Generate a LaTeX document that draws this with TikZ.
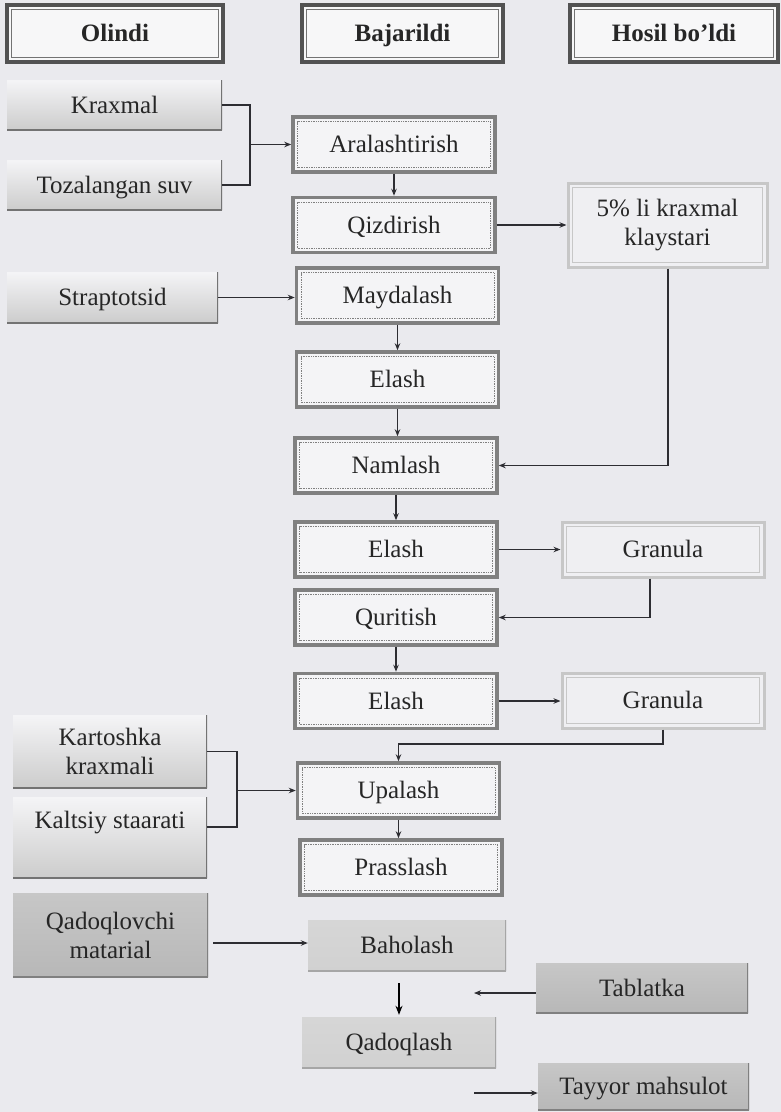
\documentclass[tikz,border=0pt]{standalone}
\usepackage{fontspec}
\setmainfont{Liberation Serif}
\usetikzlibrary{arrows.meta,calc}
\definecolor{bg}{RGB}{234,234,238}
\definecolor{ln}{RGB}{45,45,50}
\tikzset{
  base/.style={rectangle, inner sep=0pt, align=center, text=black!85,
    font=\fontsize{25}{29}\selectfont},
  one/.style={text height=21pt, text depth=4.5pt},
  inbox/.style={path picture={\draw[#1] ([shift={(4.5pt,4.5pt)}]path picture bounding box.south west) rectangle ([shift={(-4.5pt,-4.5pt)}]path picture bounding box.north east);}},
  head/.style={base, one, font=\bfseries\fontsize{25}{29}\selectfont, fill=bg!40!white,
    draw=black!68, line width=3.5pt, minimum height=57pt,
    inbox={black!55, line width=0.8pt}},
  proc/.style={base, one, fill=bg!50!white, draw=black!50, line width=3.5pt,
    minimum width=202pt, minimum height=55pt,
    inbox={black!50, line width=0.7pt, densely dotted}},
  hosil/.style={base, fill=bg!75!white, draw=black!22, line width=3pt,
    inbox={black!22, line width=0.8pt}},
  shadowedge/.style={path picture={
    \draw[black!#1, line width=3pt] (path picture bounding box.south west) -- (path picture bounding box.south east);
    \draw[black!#1, line width=2pt] (path picture bounding box.south east) -- (path picture bounding box.north east);}},
  inp/.style={base, top color=bg!50!white, bottom color=black!20, shadowedge=55},
  inpdark/.style={base, top color=black!22, middle color=black!8, bottom color=black!28, shadowedge=50},
  soft/.style={base, one, top color=black!16, middle color=black!6, bottom color=black!18, shadowedge=35},
  cons/.style={line width=1.4pt, draw=ln},
  arr/.style={cons, -{Stealth[length=7pt,width=5.5pt]}},
}
\begin{document}
\begin{tikzpicture}[x=1pt,y=-1pt]
\useasboundingbox (0,0) rectangle (781,1112);
\fill[bg] (0,0) rectangle (781,1112);

% headers
\node[head, minimum width=216pt] (hO) at (115,33.5) {Olindi};
\node[head, minimum width=201pt] (hB) at (402.5,33.5) {Bajarildi};
\node[head, minimum width=208pt] (hH) at (674,33.5) {Hosil bo’ldi};

% inputs
\node[inp, one, minimum width=215pt, minimum height=50pt] (kr) at (114.5,105) {Kraxmal};
\node[inp, one, minimum width=215pt, minimum height=50pt] (suv) at (114.5,185) {Tozalangan suv};
\node[inp, one, minimum width=211pt, minimum height=51pt] (str) at (112.5,297.5) {Straptotsid};
\node[inp, minimum width=194pt, minimum height=73pt] (kart) at (110,751.5) {Kartoshka\\kraxmali};
\node[inp, minimum width=194pt, minimum height=81pt, text height=17pt, text depth=35.5pt] (kal) at (110,837.5) {Kaltsiy staarati};
\node[inpdark, minimum width=195pt, minimum height=84pt] (qm) at (110.5,935) {Qadoqlovchi\\matarial};

% process column
\node[proc] (ara) at (394,144.5) {Aralashtirish};
\node[proc] (qiz) at (394,225) {Qizdirish};
\node[proc] (may) at (397.5,295.5) {Maydalash};
\node[proc] (el1) at (397.5,379.5) {Elash};
\node[proc] (nam) at (396,465.5) {Namlash};
\node[proc] (el2) at (396,549.5) {Elash};
\node[proc] (qur) at (396,617.5) {Quritish};
\node[proc] (el3) at (396,701) {Elash};
\node[proc] (upa) at (398.5,790.5) {Upalash};
\node[proc] (pra) at (401,867.5) {Prasslash};
\node[soft, minimum width=198pt, minimum height=51pt] (bah) at (407,945.5) {Baholash};
\node[soft, minimum width=194pt, minimum height=51pt] (qdq) at (399,1042.5) {Qadoqlash};

% results
\node[hosil, minimum width=199pt, minimum height=84pt] (kl) at (667.5,225) {5\% li kraxmal\\klaystari};
\node[hosil, one, minimum width=202pt, minimum height=55pt] (gr1) at (663,549.5) {Granula};
\node[hosil, one, minimum width=202pt, minimum height=55pt] (gr2) at (663,700.5) {Granula};
\node[inpdark, one, minimum width=212pt, minimum height=50pt] (tab) at (642,988) {Tablatka};
\node[inpdark, one, minimum width=211pt, minimum height=47pt] (tay) at (643.5,1086.5) {Tayyor mahsulot};

% helper coordinates
\coordinate (j1) at (250,144.5);
\coordinate (j3) at (398.5,744);
\coordinate (j4) at (237,790.5);
\coordinate (e1) at (474,993);
\coordinate (s1) at (474,1093);

% connectors
\draw[cons] (kr.east) -| (j1) |- (suv.east);
\draw[arr] (j1) -- (ara.west);
\draw[arr] (ara.south) -- (ara.south |- qiz.north);
\draw[arr] (qiz.east) -- (qiz.east -| kl.west);
\draw[arr] (str.east) -- (str.east -| may.west);
\draw[arr] (may.south) -- (may.south |- el1.north);
\draw[arr] (el1.south) -- (el1.south |- nam.north);
\draw[arr] ([xshift=0.5pt]kl.south) |- (nam.east);
\draw[arr] (nam.south) -- (nam.south |- el2.north);
\draw[arr] (el2.east) -- (el2.east -| gr1.west);
\draw[arr] ([xshift=-13pt]gr1.south) |- (qur.east);
\draw[arr] (qur.south) -- (qur.south |- el3.north);
\draw[arr] (el3.east) -- (el3.east -| gr2.west);
\draw[arr] (gr2.south) |- (j3) -- (j3 |- upa.north);
\draw[cons] (kart.east) -| (j4) |- ([yshift=10.5pt]kal.east);
\draw[arr] (j4) -- (upa.west);
\draw[arr] (upa.south) -- (upa.south |- pra.north);
\draw[arr, shorten <=5pt] (qm.east |- 0,943) -- (bah.west |- 0,943);
\draw[line width=1.4pt, black, -{Stealth[length=9pt,width=7pt]}, shorten <=12pt, shorten >=2pt] (qdq.north |- bah.south) -- (qdq.north);
\draw[arr] (tab.west |- e1) -- (e1);
\draw[arr] (s1) -- (s1 -| tay.west);
\end{tikzpicture}
\end{document}
